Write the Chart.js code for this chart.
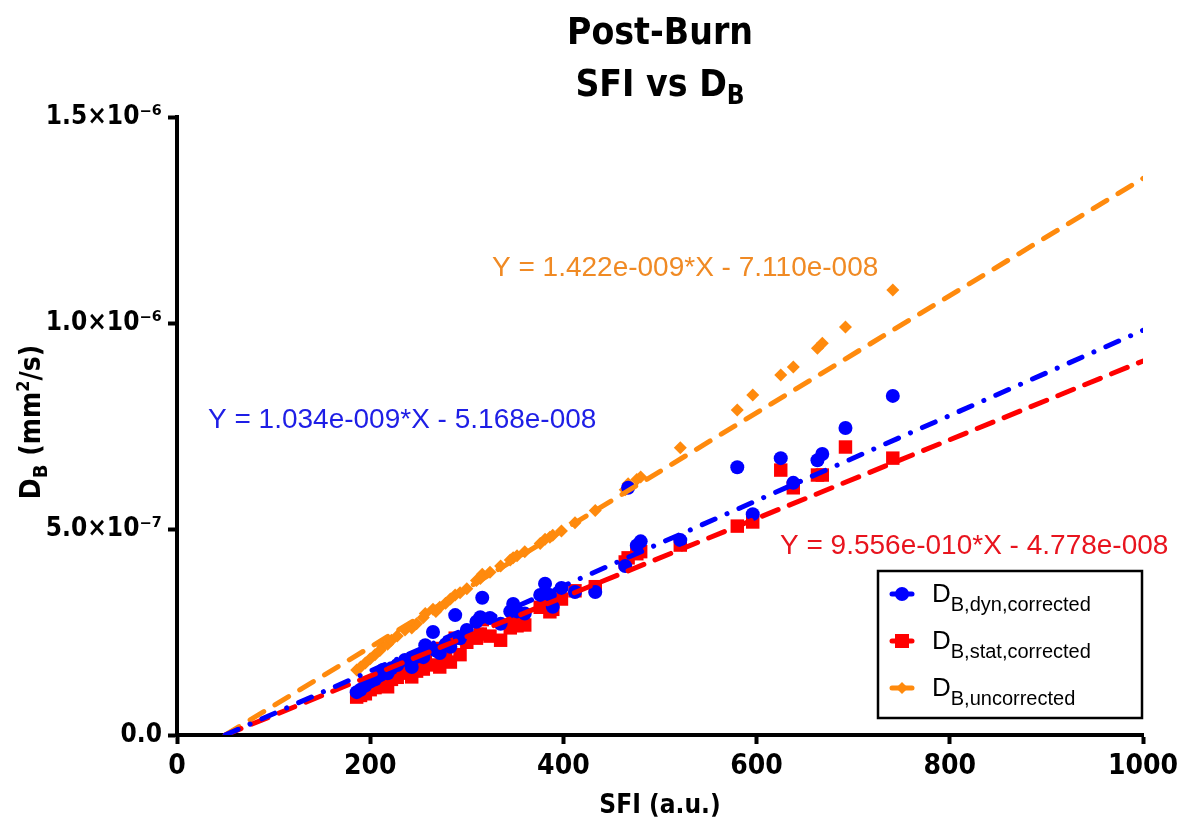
<!DOCTYPE html>
<html><head><meta charset="utf-8">
<script src="https://cdn.jsdelivr.net/npm/chart.js@4/dist/chart.umd.min.js"></script>
<style>html,body{margin:0;padding:0;background:#fff}#wrap{width:1180px;height:824px;position:relative}</style>
</head><body><div id="wrap"><canvas id="c" width="1180" height="824"></canvas></div>
<script>
// ---- data (D_B in units of 1e-7 mm^2/s) ----
const sfi      = [186,190,195,200,205,210,213,218,222,228,236,243,248,255,257,265,268,272,278,283,288,293,300,310,314,316,324,335,345,348,352,360,376,381,386,389,398,412,433,464,467,476,480,521,580,596,625,638,663,668,692,741];
const dbDyn    = [1.04,1.10,1.20,1.30,1.35,1.45,1.58,1.50,1.62,1.70,1.82,1.65,1.90,1.89,2.18,2.50,2.05,1.99,2.20,2.14,2.91,2.35,2.55,2.75,2.86,3.33,2.84,2.70,3.00,3.18,3.00,2.95,3.40,3.67,3.40,3.11,3.57,3.47,3.47,4.10,6.00,4.60,4.70,4.73,6.50,5.36,6.72,6.12,6.67,6.82,7.45,8.23];
const dbStat   = [0.92,0.96,1.00,1.10,1.15,1.20,1.25,1.17,1.35,1.40,1.50,1.41,1.55,1.60,1.80,2.10,1.70,1.65,1.85,1.77,2.35,1.95,2.25,2.35,2.45,2.80,2.40,2.30,2.60,2.70,2.65,2.67,3.10,3.25,2.99,3.05,3.30,3.50,3.60,4.20,4.30,4.40,4.45,4.61,5.07,5.17,6.43,6.00,6.31,6.31,6.99,6.72];
const dbUncorr = [1.58,1.65,1.75,1.85,1.95,2.05,2.15,2.20,2.30,2.40,2.55,2.60,2.70,2.85,2.95,3.05,3.00,3.10,3.20,3.30,3.40,3.45,3.55,3.75,3.80,3.90,3.95,4.10,4.25,4.30,4.35,4.45,4.65,4.75,4.80,4.85,4.95,5.15,5.45,5.95,6.10,6.20,6.26,6.97,7.89,8.25,8.74,8.93,9.39,9.51,9.90,10.80];
const unitScale = 1e-7;
// linear fits
const fitSlopes     = [1.034e-9, 9.556e-10, 1.422e-9];
const fitIntercepts = [-5.168e-8, -4.778e-8, -7.110e-8];
const fitXEnd = 1000;
const fitTexts = ['Y = 1.034e-009*X - 5.168e-008','Y = 9.556e-010*X - 4.778e-008','Y = 1.422e-009*X - 7.110e-008'];
// axes
const xTicks = [0,200,400,600,800,1000];
const xTickLabels = ['0','200','400','600','800','1000'];
const yTicks = [0,5e-7,1e-6,1.5e-6];
const yTickLabels = ['0.0','5.0×10⁻⁷','1.0×10⁻⁶','1.5×10⁻⁶'];
const seriesSubs = ['B,dyn,corrected','B,stat,corrected','B,uncorrected'];

const BLUE='#0000FF', RED='#FF0000', ORANGE='#FF8A0D';
const NARROW='"Liberation Sans Narrow","DejaVu Sans Condensed","Liberation Sans",Arial,sans-serif';
const SANS='"Liberation Sans",Arial,Helvetica,sans-serif';

const pts = (arr)=> sfi.map((x,i)=>({x:x, y:arr[i]*unitScale}));
const fitLine = (k)=>{ const x0 = -fitIntercepts[k]/fitSlopes[k]; return [{x:x0,y:fitSlopes[k]*x0+fitIntercepts[k]},{x:fitXEnd,y:fitSlopes[k]*fitXEnd+fitIntercepts[k]}]; };

const lineCommon = {type:'line', showLine:true, pointRadius:0, borderWidth:5, borderCapStyle:'round', fill:false, tension:0};

const extras = {
  id:'extras',
  afterDraw(chart){
    const ctx = chart.ctx;
    ctx.save();
    // Title
    ctx.fillStyle='#000'; ctx.textBaseline='alphabetic';
    ctx.font='bold 37px '+NARROW; ctx.textAlign='center';
    ctx.fillText('Post-Burn', 660, 44);
    ctx.textAlign='left';
    const t1='SFI vs D', t2='B';
    ctx.font='bold 37px '+NARROW; const w1=ctx.measureText(t1).width;
    ctx.font='bold 26px '+NARROW; const w2=ctx.measureText(t2).width;
    const sx = 660-(w1+w2)/2;
    ctx.font='bold 37px '+NARROW; ctx.fillText(t1, sx, 96);
    ctx.font='bold 26px '+NARROW; ctx.fillText(t2, sx+w1, 104);
    // Y axis title
    ctx.save();
    ctx.translate(40, 422); ctx.rotate(-Math.PI/2);
    const parts=[['D','bold 28px',0],['B','bold 20px',7],[' (mm','bold 28px',0],['2','bold 18px',-11],['/s)','bold 28px',0]];
    let tw=0; parts.forEach(p=>{ctx.font=p[1]+' '+NARROW; tw+=ctx.measureText(p[0]).width;});
    let px=-tw/2;
    parts.forEach(p=>{ctx.font=p[1]+' '+NARROW; ctx.fillText(p[0],px,p[2]); px+=ctx.measureText(p[0]).width;});
    ctx.restore();
    // equations
    ctx.font='28px '+SANS;
    ctx.fillStyle='#F08A24'; ctx.fillText(fitTexts[2], 492, 276);
    ctx.fillStyle='#1E1EE6'; ctx.fillText(fitTexts[0], 208, 428);
    ctx.fillStyle='#E8141E'; ctx.fillText(fitTexts[1], 780, 554);
    // legend
    ctx.strokeStyle='#000'; ctx.lineWidth=2.5;
    ctx.strokeRect(878, 571, 264, 147);
    const cols=[BLUE,RED,ORANGE]; const ys=[594,641,688];
    for(let i=0;i<3;i++){
      const y=ys[i];
      ctx.strokeStyle=cols[i]; ctx.lineWidth=5; ctx.lineCap='round';
      ctx.beginPath(); ctx.moveTo(892,y); ctx.lineTo(912,y); ctx.stroke();
      ctx.fillStyle=cols[i];
      ctx.beginPath();
      if(i===0){ ctx.arc(902,y,7,0,Math.PI*2); }
      else if(i===1){ ctx.rect(895,y-7,14,14); }
      else { ctx.moveTo(902,y-6); ctx.lineTo(908,y); ctx.lineTo(902,y+6); ctx.lineTo(896,y); ctx.closePath(); }
      ctx.fill();
      ctx.fillStyle='#000';
      ctx.font='26px '+SANS; ctx.fillText('D', 932, y+8);
      const dw=ctx.measureText('D').width;
      ctx.font='20px '+SANS; ctx.fillText(seriesSubs[i], 932+dw, y+17);
    }
    ctx.restore();
  }
};

new Chart(document.getElementById('c'), {
  type:'scatter',
  data:{datasets:[
    {...lineCommon, label:'fit dyn', data:fitLine(0), borderColor:BLUE, borderDash:[14,13,0.1,13], order:1},
    {...lineCommon, label:'fit stat', data:fitLine(1), borderColor:RED, borderDash:[17,12], order:2},
    {...lineCommon, label:'fit uncorr', data:fitLine(2), borderColor:ORANGE, borderDash:[16,13], order:3},
    {label:'D_B,dyn,corrected', data:pts(dbDyn), backgroundColor:BLUE, borderColor:BLUE, borderWidth:0, pointStyle:'circle', pointRadius:7, order:4},
    {label:'D_B,stat,corrected', data:pts(dbStat), backgroundColor:RED, borderColor:RED, borderWidth:0, pointStyle:'rect', pointRadius:9.5, order:5},
    {label:'D_B,uncorrected', data:pts(dbUncorr), backgroundColor:ORANGE, borderColor:ORANGE, borderWidth:0, pointStyle:'rectRot', pointRadius:6.5, order:6}
  ]},
  options:{
    responsive:false, animation:false, devicePixelRatio:1,
    layout:{padding:{top:117,right:37,left:0,bottom:0}},
    plugins:{legend:{display:false}, title:{display:false}, tooltip:{enabled:false}},
    scales:{
      x:{type:'linear', min:0, max:1000,
        afterBuildTicks:(s)=>{s.ticks=xTicks.map(v=>({value:v}));},
        afterFit:(s)=>{s.height=89; s.paddingRight=0; s.paddingLeft=0;},
        ticks:{color:'#000', font:{family:NARROW, size:28, weight:'bold'}, padding:6,
          callback:(v)=>{const i=xTicks.indexOf(v); return i>=0?xTickLabels[i]:'';}},
        grid:{display:true, drawOnChartArea:false, drawTicks:true, tickLength:9, tickWidth:4, tickColor:'#000'},
        border:{display:true, width:4, color:'#000'},
        title:{display:true, text:'SFI (a.u.)', color:'#000', font:{family:NARROW, size:26, weight:'bold'}, padding:{top:8,bottom:2}}
      },
      y:{type:'linear', min:0, max:1.5e-6,
        afterBuildTicks:(s)=>{s.ticks=yTicks.map(v=>({value:v}));},
        afterFit:(s)=>{s.width=177; s.paddingTop=0; s.paddingBottom=0;},
        ticks:{color:'#000', font:{family:NARROW, size:26, weight:'bold'}, padding:6,
          callback:(v)=>{const i=yTicks.findIndex(t=>Math.abs(t-v)<1e-12); return i>=0?yTickLabels[i]:'';}},
        grid:{display:true, drawOnChartArea:false, drawTicks:true, tickLength:9, tickWidth:4, tickColor:'#000'},
        border:{display:true, width:4, color:'#000'}
      }
    }
  },
  plugins:[extras]
});
</script></body></html>
